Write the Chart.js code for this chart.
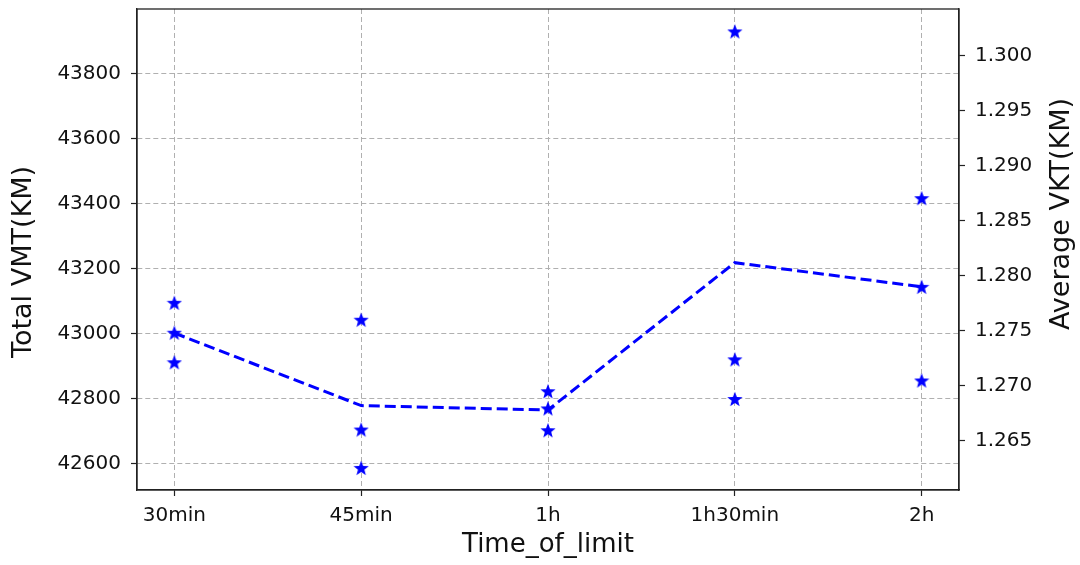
<!DOCTYPE html>
<html>
<head>
<meta charset="utf-8">
<script src="https://cdn.jsdelivr.net/npm/chart.js@4"></script>
<style>
  body { margin: 0; background: #fff; }
  #wrap { width: 1080px; height: 565px; }
</style>
</head>
<body>
<div id="wrap"><canvas id="myChart" width="1080" height="565"></canvas></div>
<script>
// categories and values
const timeLabels = ['30min', '45min', '1h', '1h30min', '2h'];
const vmtRun1 = [43094, 43042, 42822, 43929, 43416];
const vmtRun2 = [43002, 42704, 42769, 42920, 43143];
const vmtRun3 = [42911, 42586, 42702, 42798, 42855];
const avgVkt = [1.2748, 1.2682, 1.2678, 1.2812, 1.2790];

const vmtTicks = [42600, 42800, 43000, 43200, 43400, 43600, 43800];
const vktTicks = [1.265, 1.270, 1.275, 1.280, 1.285, 1.290, 1.295, 1.300];

const FONT = 'DejaVu Sans';

// filled five point star like matplotlib's '*' marker
function starMarker(size, color) {
    const c = document.createElement('canvas');
    c.width = size; c.height = size;
    const g = c.getContext('2d');
    const cx = size / 2, cy = size / 2 + 0.7;
    const ro = size / 2, ri = ro * 0.42;
    g.beginPath();
    for (let i = 0; i < 10; i++) {
        const r = i % 2 === 0 ? ro : ri;
        const a = -Math.PI / 2 + i * Math.PI / 5;
        const x = cx + r * Math.cos(a), y = cy + r * Math.sin(a);
        if (i === 0) g.moveTo(x, y); else g.lineTo(x, y);
    }
    g.closePath();
    g.fillStyle = color;
    g.fill();
    return c;
}
const star = starMarker(16, '#0000ff');

function pts(arr) {
    return arr.map((v, i) => ({ x: i, y: v }));
}

function starSet(arr) {
    return {
        type: 'scatter',
        data: pts(arr),
        yAxisID: 'y',
        pointStyle: star,
        pointRadius: 8,
        showLine: false,
        order: 2
    };
}

// box round the plot and the two y titles (matplotlib reads both bottom to top)
const frame = {
    id: 'frame',
    afterDraw(chart) {
        const a = chart.chartArea, ctx = chart.ctx;
        ctx.save();
        ctx.strokeStyle = '#222';
        ctx.lineWidth = 1.3;
        ctx.strokeRect(a.left, a.top, a.right - a.left, a.bottom - a.top);
        ctx.fillStyle = '#111';
        ctx.font = '27px "' + FONT + '"';
        ctx.textAlign = 'center';
        ctx.textBaseline = 'middle';
        ctx.translate(24, 262);
        ctx.rotate(-Math.PI / 2);
        ctx.fillText('Total VMT(KM)', 0, 0);
        ctx.restore();
        ctx.save();
        ctx.fillStyle = '#111';
        ctx.font = '27px "' + FONT + '"';
        ctx.textAlign = 'center';
        ctx.textBaseline = 'middle';
        ctx.translate(1062, 214);
        ctx.rotate(-Math.PI / 2);
        ctx.fillText('Average VKT(KM)', 0, 0);
        ctx.restore();
    }
};

const noPadY = s => { s.paddingTop = 0; s.paddingBottom = 0; };

const ctx = document.getElementById('myChart').getContext('2d');
const myChart = new Chart(ctx, {
    type: 'scatter',
    data: {
        datasets: [
            starSet(vmtRun1),
            starSet(vmtRun2),
            starSet(vmtRun3),
            {
                type: 'line',
                data: pts(avgVkt),
                yAxisID: 'y1',
                borderColor: '#0000ff',
                borderWidth: 3,
                borderDash: [11, 5],
                pointRadius: 0,
                fill: false,
                tension: 0,
                order: 1
            }
        ]
    },
    options: {
        responsive: false,
        animation: false,
        layout: { padding: { top: 8, left: 0, right: 0, bottom: 0 } },
        plugins: {
            legend: { display: false },
            tooltip: { enabled: false }
        },
        scales: {
            x: {
                type: 'linear',
                min: -0.2,
                max: 4.2,
                afterBuildTicks: s => { s.ticks = timeLabels.map((_, i) => ({ value: i })); },
                afterFit: s => { s.height = 75; s.paddingLeft = 0; s.paddingRight = 0; },
                ticks: {
                    includeBounds: false,
                    autoSkip: false,
                    maxRotation: 0,
                    padding: 8,
                    color: '#111',
                    font: { family: FONT, size: 20 },
                    callback: v => timeLabels[v]
                },
                grid: {
                    color: '#b0b0b0',
                    lineWidth: 1,
                    tickColor: '#222',
                    tickLength: 6,
                    tickWidth: 1.2
                },
                border: { color: '#222', width: 1.3, dash: [5, 3] },
                title: {
                    display: true,
                    text: 'Time_of_limit',
                    color: '#111',
                    font: { family: FONT, size: 26 },
                    padding: { top: 0, bottom: 4 }
                }
            },
            y: {
                position: 'left',
                min: 42518,
                max: 43998,
                afterBuildTicks: s => { s.ticks = vmtTicks.map(v => ({ value: v })); },
                afterFit: s => { s.width = 137; noPadY(s); },
                ticks: {
                    includeBounds: false,
                    padding: 10,
                    color: '#111',
                    font: { family: FONT, size: 20 },
                    callback: v => String(v)
                },
                grid: {
                    color: '#b0b0b0',
                    lineWidth: 1,
                    tickColor: '#222',
                    tickLength: 6,
                    tickWidth: 1.2
                },
                border: { color: '#222', width: 1.3, dash: [5, 3] }
            },
            y1: {
                position: 'right',
                min: 1.260526,
                max: 1.304265,
                afterBuildTicks: s => { s.ticks = vktTicks.map(v => ({ value: v })); },
                afterFit: s => { s.width = 121; noPadY(s); },
                ticks: {
                    includeBounds: false,
                    padding: 10,
                    color: '#111',
                    font: { family: FONT, size: 20 },
                    callback: v => Number(v).toFixed(3)
                },
                grid: {
                    drawOnChartArea: false,
                    tickColor: '#222',
                    tickLength: 6,
                    tickWidth: 1.2
                },
                border: { color: '#222', width: 1.3 }
            }
        }
    },
    plugins: [frame]
});
</script>
</body>
</html>
